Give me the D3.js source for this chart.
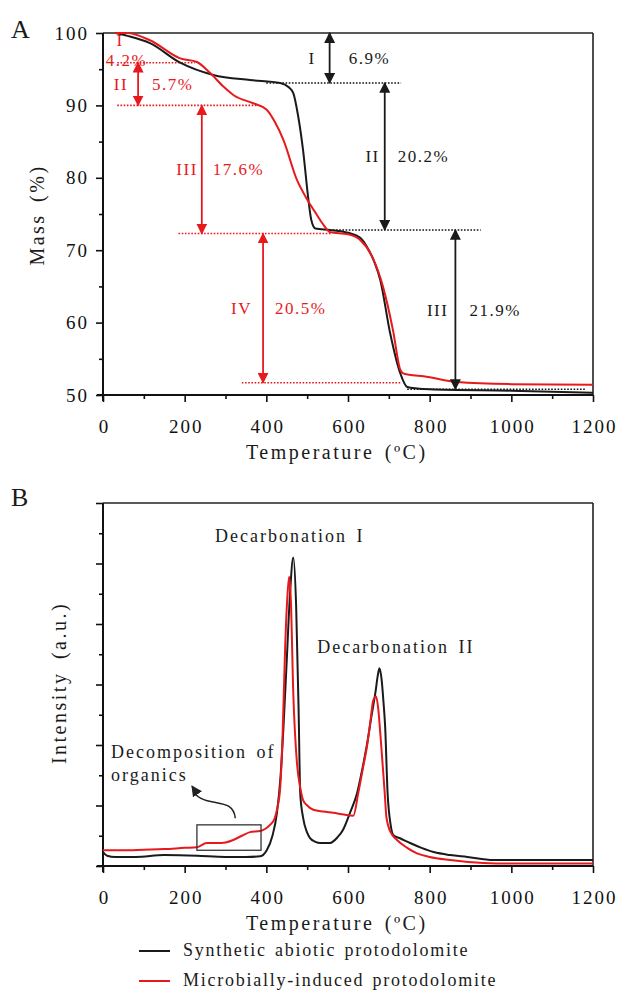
<!DOCTYPE html>
<html>
<head>
<meta charset="utf-8">
<script src="https://cdn.jsdelivr.net/npm/d3@7"></script>
<style>
  body { margin: 0; background: #fff; }
  text { font-family: "Liberation Serif", "Times New Roman", serif; }
</style>
</head>
<body>
<svg id="chart" width="621" height="991"></svg>
<script>
// ---------- DATA ----------
// Panel A: TGA (mass %)
const tgaBlackT = [30, 60, 115, 189, 270, 360, 434, 455, 466, 478, 490, 503, 510, 520, 556, 600, 630, 647, 665, 679, 703, 728, 745, 770, 800, 1000, 1200];
const tgaBlackM = [100, 99.6, 98.6, 95.9, 94.2, 93.5, 93.1, 92.5, 91.7, 88.5, 83.8, 77, 74.2, 73, 72.8, 72.4, 71.7, 70.4, 68.3, 65.9, 58.6, 53, 51.1, 50.9, 50.8, 50.6, 50.3];
const tgaRedT = [29, 59, 115, 189, 230, 262, 295, 320, 368, 401, 420, 442, 475, 500, 520, 540, 556, 600, 630, 660, 686, 710, 728, 735, 750, 785, 867, 1000, 1200];
const tgaRedM = [100, 100, 99, 96.5, 96, 94.5, 92.6, 91.4, 90.3, 89.4, 87.8, 85.2, 79.7, 77, 75.2, 73.5, 72.5, 72.2, 71.4, 69, 64.9, 59, 53.5, 53, 52.8, 52.6, 51.8, 51.5, 51.4];

// Panel A annotations (mass levels, temperature positions)
const blackSteps = [
  {label: "I", pct: "6.9%", from: 100, to: 93.1, x: 555, gl: 14, gr: 19},
  {label: "II", pct: "20.2%", from: 93.1, to: 72.8, x: 690, gl: 5, gr: 13},
  {label: "III", pct: "21.9%", from: 72.8, to: 50.8, x: 863, gl: 7, gr: 14}
];
const blackLevels = [
  {m: 93.1, t0: 400, t1: 730},
  {m: 72.8, t0: 555, t1: 925},
  {m: 50.8, t0: 745, t1: 1180}
];
const redSteps = [
  {label: "II", pct: "5.7%", from: 95.9, to: 90, x: 86, gl: 10, gr: 14},
  {label: "III", pct: "17.6%", from: 90, to: 72.3, x: 242, gl: 4, gr: 11},
  {label: "IV", pct: "20.5%", from: 72.3, to: 51.7, x: 392, gl: 11, gr: 12}
];
const redLevels = [
  {m: 95.9, t0: 35, t1: 225},
  {m: 90, t0: 35, t1: 380},
  {m: 72.3, t0: 185, t1: 560},
  {m: 51.7, t0: 340, t1: 730}
];

// Panel B: DTG (intensity, a.u.)
const dtgBlackT = [0, 10, 30, 80, 150, 230, 300, 350, 385, 401, 415, 426, 435, 442, 450, 458, 466, 473, 479, 483, 490, 500, 507, 520, 532, 556, 575, 588, 605, 622, 635, 647, 658, 667, 673, 677, 682, 687, 691, 697, 704, 711, 730, 752, 780, 810, 850, 892, 956, 1050, 1200];
const dtgBlackV = [0.23, 0.17, 0.15, 0.15, 0.18, 0.17, 0.15, 0.15, 0.16, 0.26, 0.5, 0.88, 1.5, 2.3, 3.4, 4.5, 5.1, 4.3, 2.6, 1.2, 0.8, 0.55, 0.46, 0.4, 0.38, 0.38, 0.48, 0.6, 0.88, 1.2, 1.6, 2.03, 2.5, 2.86, 3.15, 3.27, 3.1, 2.7, 2.3, 1.2, 0.7, 0.51, 0.45, 0.38, 0.3, 0.23, 0.18, 0.15, 0.1, 0.1, 0.1];
const dtgRedT = [0, 50, 100, 150, 200, 230, 254, 280, 300, 319, 340, 360, 385, 409, 420, 426, 434, 440, 446, 452, 456, 460, 466, 475, 483, 490, 500, 515, 540, 564, 590, 613, 625, 636, 647, 655, 662, 669, 674, 679, 684, 690, 694, 705, 720, 745, 769, 800, 850, 931, 1000, 1200];
const dtgRedV = [0.26, 0.26, 0.27, 0.28, 0.3, 0.31, 0.38, 0.38, 0.39, 0.43, 0.5, 0.56, 0.58, 0.68, 0.78, 0.93, 1.3, 2.2, 3.6, 4.5, 4.78, 4.4, 2.86, 1.7, 1.3, 1.09, 1.0, 0.93, 0.9, 0.88, 0.85, 0.83, 1.2, 1.6, 2.0, 2.4, 2.74, 2.8, 2.6, 2.2, 1.75, 1.2, 0.81, 0.55, 0.43, 0.3, 0.21, 0.15, 0.1, 0.05, 0.04, 0.04];

const xTicks = [0, 200, 400, 600, 800, 1000, 1200];
const xMinorTicks = [100, 300, 500, 700, 900, 1100];
const massTicks = [50, 60, 70, 80, 90, 100];
const massMinorTicks = [55, 65, 75, 85, 95];
const intTicks = [0, 1, 2, 3, 4, 5, 6];
const intMinorTicks = [0.5, 1.5, 2.5, 3.5, 4.5, 5.5];

const legendLabels = ["Synthetic abiotic protodolomite", "Microbially-induced protodolomite"];
const colors = ["#1a1a1a", "#e8191d"];

// ---------- LAYOUT ----------
const svg = d3.select("#chart");
const L = 103, R = 593;
const A = {top: 33, bottom: 395};
const B = {top: 503, bottom: 866};

const x = d3.scaleLinear().domain([0, 1200]).range([L, R]);
const yA = d3.scaleLinear().domain([50, 100]).range([A.bottom, A.top]);
const yB = d3.scaleLinear().domain([0, 6]).range([B.bottom, B.top]);

const tickFont = 19;
const ls = "2px";

// arrowheads
const defs = svg.append("defs");
function marker(id, color) {
  defs.append("marker").attr("id", id)
    .attr("viewBox", "0 0 10 10").attr("refX", 9).attr("refY", 5)
    .attr("markerWidth", 11).attr("markerHeight", 11)
    .attr("markerUnits", "userSpaceOnUse")
    .attr("orient", "auto-start-reverse")
    .append("path").attr("d", "M0,0 L10,5 L0,10 Z").attr("fill", color);
}
marker("arrB", colors[0]);
marker("arrR", colors[1]);
marker("arrS", "#222");

function drawAxes(y, box, yMajor, yMinor, showYLabels) {
  const g = svg.append("g");
  g.append("line").attr("x1", L).attr("x2", R).attr("y1", box.top).attr("y2", box.top)
    .attr("stroke", "#222").attr("stroke-width", 1.6);
  g.append("line").attr("x1", R).attr("x2", R).attr("y1", box.top).attr("y2", box.bottom)
    .attr("stroke", "#222").attr("stroke-width", 1.6);
  const xa = g.append("g").attr("transform", `translate(0,${box.bottom})`)
    .call(d3.axisBottom(x).tickValues(xTicks).tickSize(7).tickPadding(18).tickFormat(d3.format("d")));
  xa.select(".domain").attr("stroke", "#111").attr("stroke-width", 2).attr("d", `M${L-6},0H${R}`);
  xa.selectAll(".tick line").attr("stroke", "#111").attr("stroke-width", 1.6);
  xa.selectAll("text").attr("font-size", tickFont).attr("font-family", "Liberation Serif")
    .attr("letter-spacing", ls).attr("fill", "#111").attr("dx", "1px");
  const xm = g.append("g").attr("transform", `translate(0,${box.bottom})`)
    .call(d3.axisBottom(x).tickValues(xMinorTicks).tickSize(4).tickFormat(""));
  xm.select(".domain").remove();
  xm.selectAll(".tick line").attr("stroke", "#111").attr("stroke-width", 1.6);
  const ya = g.append("g").attr("transform", `translate(${L},0)`)
    .call(d3.axisLeft(y).tickValues(yMajor).tickSize(7).tickPadding(7)
      .tickFormat(showYLabels ? d3.format("d") : ""));
  ya.select(".domain").attr("stroke", "#111").attr("stroke-width", 2).attr("d", `M0,${box.bottom+6}V${box.top}`);
  ya.selectAll(".tick line").attr("stroke", "#111").attr("stroke-width", 1.6);
  ya.selectAll("text").attr("font-size", tickFont).attr("font-family", "Liberation Serif")
    .attr("letter-spacing", ls).attr("fill", "#111");
  const ym = g.append("g").attr("transform", `translate(${L},0)`)
    .call(d3.axisLeft(y).tickValues(yMinor).tickSize(4).tickFormat(""));
  ym.select(".domain").remove();
  ym.selectAll(".tick line").attr("stroke", "#111").attr("stroke-width", 1.6);
}

function txt(s, xx, yy, opts = {}) {
  return svg.append("text").attr("x", xx).attr("y", yy)
    .attr("font-size", opts.size || 17)
    .attr("fill", opts.fill || "#1a1a1a")
    .attr("text-anchor", opts.anchor || "start")
    .attr("letter-spacing", opts.ls || "1.5px")
    .attr("word-spacing", opts.ws || "2px")
    .text(s);
}

// ---------- PANEL A ----------
drawAxes(yA, A, massTicks, massMinorTicks, true);

const lineA = d3.line().x(d => x(d[0])).y(d => yA(d[1])).curve(d3.curveMonotoneX);
defs.append("clipPath").attr("id", "clipA").append("rect")
  .attr("x", L).attr("y", A.top - 2).attr("width", R - L).attr("height", A.bottom - A.top + 1);

blackLevels.forEach(l => {
  svg.append("line").attr("x1", x(l.t0)).attr("x2", x(l.t1)).attr("y1", yA(l.m)).attr("y2", yA(l.m))
    .attr("stroke", "#111").attr("stroke-width", 1.6).attr("stroke-dasharray", "1.6,1.6");
});
redLevels.forEach(l => {
  svg.append("line").attr("x1", x(l.t0)).attr("x2", x(l.t1)).attr("y1", yA(l.m)).attr("y2", yA(l.m))
    .attr("stroke", colors[1]).attr("stroke-width", 1.6).attr("stroke-dasharray", "1.6,1.6");
});

svg.append("path").datum(d3.zip(tgaBlackT, tgaBlackM)).attr("d", lineA)
  .attr("fill", "none").attr("stroke", colors[0]).attr("stroke-width", 2).attr("clip-path", "url(#clipA)");
svg.append("path").datum(d3.zip(tgaRedT, tgaRedM)).attr("d", lineA)
  .attr("fill", "none").attr("stroke", colors[1]).attr("stroke-width", 2).attr("clip-path", "url(#clipA)");

function stepArrow(s, color, mk) {
  const xx = x(s.x);
  svg.append("line").attr("x1", xx).attr("x2", xx).attr("y1", yA(s.from)).attr("y2", yA(s.to))
    .attr("stroke", color).attr("stroke-width", 1.8)
    .attr("marker-start", `url(#${mk})`).attr("marker-end", `url(#${mk})`);
  const ym = (yA(s.from) + yA(s.to)) / 2 + 6;
  txt(s.label, xx - s.gl, ym, {anchor: "end", fill: color});
  txt(s.pct, xx + s.gr, ym, {fill: color});
}
blackSteps.forEach(s => stepArrow(s, colors[0], "arrB"));
redSteps.forEach(s => stepArrow(s, colors[1], "arrR"));
// red step I label (no arrow)
txt("I", x(42), yA(98.15), {fill: colors[1], anchor: "middle"});
txt("4.2%", x(7), yA(95.5), {fill: colors[1]});

// axis titles A
txt("Temperature (ºC)", 246, 459, {size: 20, ls: "2.5px", ws: "3px"});
svg.append("text").attr("transform", `translate(44,215) rotate(-90)`)
  .attr("text-anchor", "middle").attr("font-size", 20).attr("letter-spacing", "2.5px")
  .attr("word-spacing", "4px").attr("fill", "#1a1a1a").text("Mass (%)");
txt("A", 11, 38, {size: 26, ls: "0px"});

// ---------- PANEL B ----------
drawAxes(yB, B, intTicks, intMinorTicks, false);

const lineB = d3.line().x(d => x(d[0])).y(d => yB(d[1])).curve(d3.curveMonotoneX);
svg.append("path").datum(d3.zip(dtgBlackT, dtgBlackV)).attr("d", lineB)
  .attr("fill", "none").attr("stroke", colors[0]).attr("stroke-width", 2);
svg.append("path").datum(d3.zip(dtgRedT, dtgRedV)).attr("d", lineB)
  .attr("fill", "none").attr("stroke", colors[1]).attr("stroke-width", 2);

// box around organics region
svg.append("rect").attr("x", x(230)).attr("y", yB(0.68))
  .attr("width", x(387) - x(230)).attr("height", yB(0.26) - yB(0.68))
  .attr("fill", "none").attr("stroke", "#333").attr("stroke-width", 1.3);
// curved arrow
svg.append("path")
  .attr("d", `M${x(324)},${yB(0.79)} C${x(320)},${yB(1.05)} ${x(290)},${yB(1.02)} ${x(255)},${yB(1.08)} S${x(225)},${yB(1.25)} ${x(218)},${yB(1.32)}`)
  .attr("fill", "none").attr("stroke", "#222").attr("stroke-width", 1.5)
  .attr("marker-end", "url(#arrS)");

txt("Decomposition of", x(19.6), yB(1.785), {size: 18, ls: "2px", ws: "3px"});
txt("organics", x(19.6), yB(1.40), {size: 18, ls: "2px"});
txt("Decarbonation I", x(274.5), yB(5.355), {size: 18, ls: "2px", ws: "3px"});
txt("Decarbonation II", x(524.5), yB(3.52), {size: 18, ls: "2px", ws: "3px"});

txt("Temperature (ºC)", 246, 930, {size: 20, ls: "2.5px", ws: "3px"});
svg.append("text").attr("transform", `translate(66,683) rotate(-90)`)
  .attr("text-anchor", "middle").attr("font-size", 20).attr("letter-spacing", "2.5px")
  .attr("word-spacing", "5px").attr("fill", "#1a1a1a").text("Intensity (a.u.)");
txt("B", 11, 506, {size: 26, ls: "0px"});

// legend
legendLabels.forEach((lab, i) => {
  const yy = 951 + i * 30;
  svg.append("line").attr("x1", 139).attr("x2", 170).attr("y1", yy).attr("y2", yy)
    .attr("stroke", colors[i]).attr("stroke-width", 2);
  txt(lab, 183, yy + 5, {size: 18, ls: "1.75px", ws: "2px"});
});
</script>
</body>
</html>
